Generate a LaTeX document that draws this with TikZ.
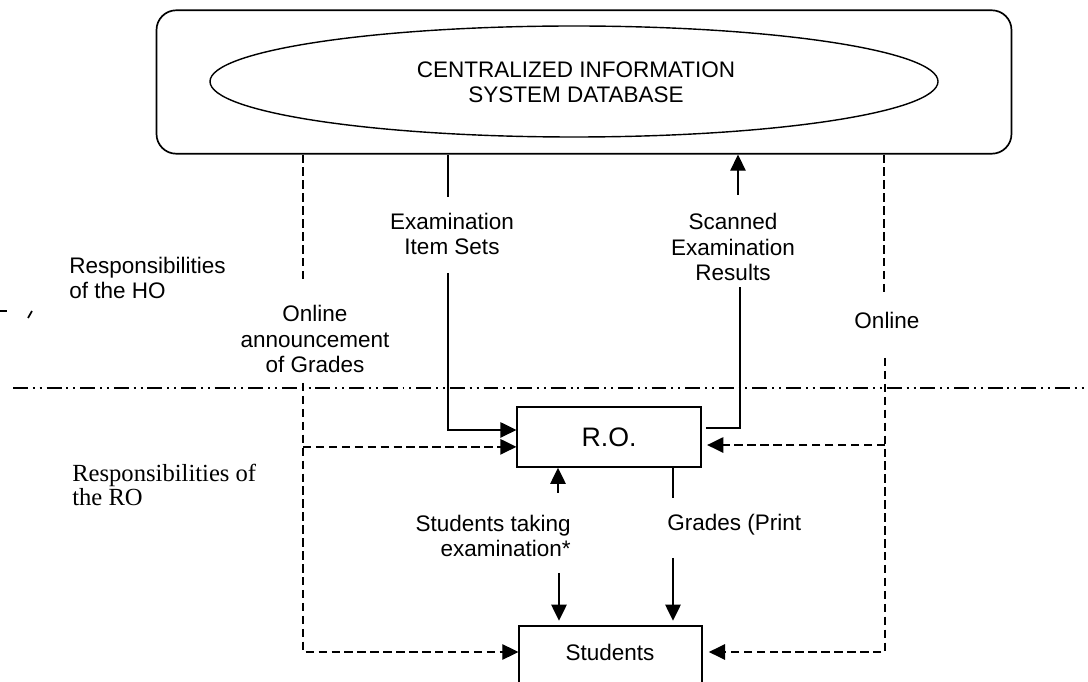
\documentclass[tikz,border=0pt]{standalone}
\usepackage{fontspec}
\setmainfont{Liberation Sans}
\newfontfamily\roserif{Liberation Serif}
\usetikzlibrary{arrows.meta}
\begin{document}
\begin{tikzpicture}[x=0.025cm,y=-0.025cm,
  every node/.style={font=\fontsize{16}{18.2}\selectfont, inner sep=0pt},
  lbl/.style={align=center},
  frame/.style={draw, line width=1.2pt},
  flow/.style={line width=1pt},
  link/.style={line width=1pt, dash pattern=on 6pt off 3.2pt},
  tip/.style={-{Triangle[length=11.5pt,width=11pt]}},
  sep/.style={line width=0.8pt, dash pattern=on 10.6pt off 3.5pt on 1.4pt off 3.5pt on 1.4pt off 3.5pt}
]
\useasboundingbox (0,0) rectangle (1088,682);
\clip (0,0) rectangle (1088,682);

% central database
\node[frame, rounded corners=14pt, minimum width=608pt, minimum height=102pt] (sys) at (584,82) {};
\coordinate (dbc) at (574,81.5);
\draw[line width=1pt] (dbc) ellipse [x radius=364, y radius=55.5];
\node[align=center, font=\fontsize{16}{17.5}\selectfont] (db) at (576,82) {CENTRALIZED INFORMATION\\SYSTEM DATABASE};

% regional office and students
\node[frame, minimum width=130.4pt, minimum height=42.5pt, font=\fontsize{19}{22}\selectfont] (ro) at (609,437) {R.O.};
\node[frame, minimum width=129.7pt, minimum height=50pt, anchor=north] (stu) at (610.5,625) {};
\node (stutxt) at (610,652) {Students};

% labels
\node[lbl] (lexam) at (452,234) {Examination\\Item Sets};
\node[lbl] (lscan) at (733,247) {Scanned\\Examination\\Results};
\node[lbl] (lann) at (315,339) {Online\\announcement\\of Grades};
\node (lonl) at (887,320) {Online};
\node[align=left, anchor=west] (lho) at (69,278) {Responsibilities\\of the HO};
\node[align=left, anchor=west, font=\roserif\fontsize{17.5}{17.7}\selectfont] (lro) at (72,485) {Responsibilities of\\the RO};
\node[align=right, anchor=east] (lstud) at (571,536) {Students taking\\examination*};
\node[anchor=west] (lgrade) at (667,525) {Grades (Print};

% HO / RO boundary
\coordinate (sepL) at (13,388);
\coordinate (sepR) at (1088,388);
\draw[sep] (sepL) -- (sepR);

% attachment points beside the R.O. box
\coordinate (roL1) at ([yshift=5pt]ro.west);
\coordinate (roL2) at ([yshift=-7pt]ro.west);
\coordinate (roR1) at ([xshift=3pt,yshift=6.4pt]ro.east);
\coordinate (roR2) at ([xshift=4pt,yshift=-5.7pt]ro.east);
\coordinate (stuL) at (stu.west |- stutxt);
\coordinate (stuR) at ([xshift=4.5pt]stu.east |- stutxt);

% online announcement of grades
\coordinate (a1) at (303,283);
\coordinate (a2) at (303,383);
\draw[link] (sys.south -| a1) -- (a1);
\draw[link,tip] (a2) |- (stuL);
\draw[link,tip] (a2 |- roL2) -- (roL2);

% examination item sets
\coordinate (e1) at (448,197);
\coordinate (e2) at (448,273);
\draw[flow] (sys.south -| e1) -- (e1);
\draw[flow,tip] (e2) |- (roL1);

% scanned examination results
\coordinate (s1) at (738,195);
\coordinate (s2) at (740,287);
\draw[flow,tip] (s1) -- (sys.south -| s1);
\draw[flow] (roR1) -| (s2);

% online channel on the right
\coordinate (o1) at (884,293);
\coordinate (o2) at (885,358);
\draw[link] (sys.south -| o1) -- (o1);
\draw[link,tip] (o2) |- (stuR);
\draw[link,tip] (o2 |- roR2) -- (roR2);

% students taking examination
\coordinate (u1) at (558,493);
\draw[flow,tip] (u1) -- (ro.south -| u1);
\coordinate (d1) at (559,573);
\draw[flow,tip,shorten >=3pt] (d1) -- (stu.north -| d1);

% printed grades
\coordinate (g1) at (673,498);
\draw[flow] (ro.south -| g1) -- (g1);
\coordinate (g2) at (673,558);
\draw[flow,tip,shorten >=3pt] (g2) -- (stu.north -| g2);

% small pen marks at the left margin
\coordinate (m1) at (0,311);
\coordinate (m2) at (7,311);
\draw[line width=0.8pt] (m1) -- (m2);
\coordinate (m3) at (28,318);
\coordinate (m4) at (32,311);
\draw[line width=1.2pt] (m3) -- (m4);
\end{tikzpicture}
\end{document}
